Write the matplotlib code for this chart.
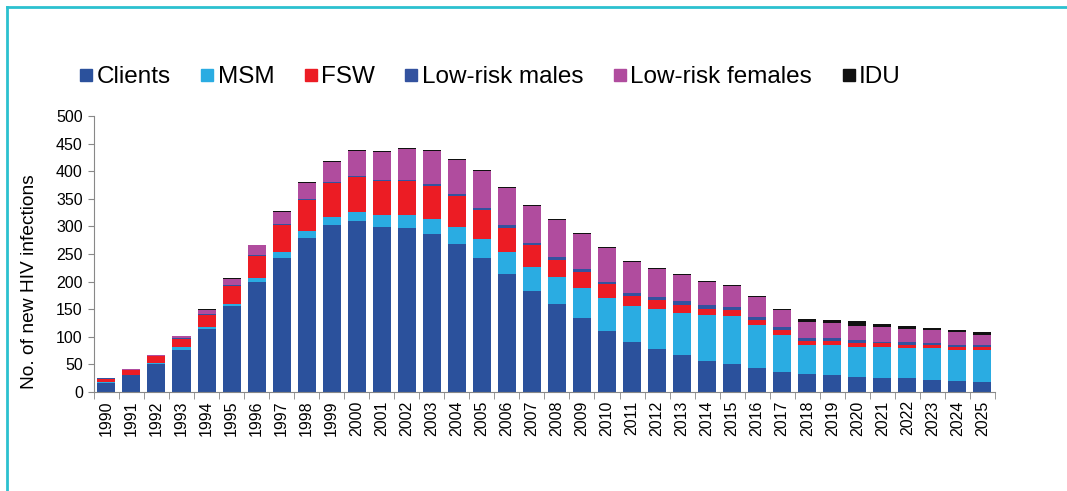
import numpy as np
import matplotlib.pyplot as plt
from matplotlib.lines import Line2D

plt.rcParams['font.family'] = ['Liberation Sans', 'DejaVu Sans']

years = [str(y) for y in range(1990, 2026)]

clients = [17, 30, 50, 77, 114, 155, 199, 243, 279, 303, 310, 299, 297, 287, 268, 243, 213, 183,
           159, 134, 111, 90, 78, 67, 56, 51, 44, 37, 33, 30, 28, 26, 25, 22, 20, 19]
msm = [1, 1, 3, 4, 3, 5, 8, 10, 12, 14, 17, 21, 23, 27, 31, 35, 40, 44,
       49, 54, 59, 65, 72, 76, 84, 86, 77, 66, 52, 55, 54, 55, 55, 58, 57, 57]
fsw = [6, 9, 12, 15, 23, 32, 40, 49, 56, 62, 62, 62, 62, 60, 56, 51, 45, 39,
       32, 30, 26, 19, 17, 15, 11, 11, 10, 9, 8, 7, 7, 7, 6, 5, 5, 5]
low_males = [0.5, 0.5, 0.5, 1, 1.5, 1.5, 1.5, 2, 2, 2, 2, 3, 3, 3, 4, 4, 4, 4,
             5, 5, 4, 5, 6, 6, 6, 6, 5, 5, 4, 5, 5, 3, 4, 4, 4, 4]
low_females = [0.5, 1, 1.5, 4, 7, 11, 17, 23, 30, 36, 45, 50, 55, 59, 62, 67, 67, 67,
               67, 64, 60, 56, 50, 48, 43, 38, 36, 31, 30, 28, 26, 26, 25, 23, 22, 19]
idu = [0.5, 0.5, 0.8, 1, 1, 1.5, 1.5, 1.5, 2, 2, 2, 1.5, 2, 2, 2, 2, 2, 2,
       2, 1.5, 2, 2, 2, 2, 2, 2, 1.5, 3, 5, 6, 8, 6.5, 4.5, 4, 4, 5]

series = [
    ("Clients", clients, "#2b519c"),
    ("MSM", msm, "#2aace2"),
    ("FSW", fsw, "#ec1c24"),
    ("Low-risk males", low_males, "#33529f"),
    ("Low-risk females", low_females, "#b04c9e"),
    ("IDU", idu, "#111111"),
]

fig = plt.figure(figsize=(10.67, 4.91), dpi=100)
ax = fig.add_axes([0.088, 0.2016, 0.8445, 0.5621])

x = np.arange(len(years))
bottom = np.zeros(len(years))
for name, vals, color in series:
    vals = np.array(vals, dtype=float)
    ax.bar(x, vals, 0.72, bottom=bottom, color=color, label=name)
    bottom += vals

ax.set_xlim(-0.5, len(years) - 0.5)
ax.set_ylim(0, 500)
ax.set_yticks(np.arange(0, 501, 50))
ax.set_xticks(x)
ax.set_xticklabels(years, rotation=90, fontsize=11.5)
ax.set_xticks(np.arange(-0.5, len(years), 1), minor=True)
ax.tick_params(axis='x', which='major', length=0, pad=6)
ax.tick_params(axis='x', which='minor', length=5, color='#888888', direction='out')
ax.tick_params(axis='y', length=4, color='#888888', labelsize=11.5, pad=4)

for s in ['top', 'right']:
    ax.spines[s].set_visible(False)
for s in ['left', 'bottom']:
    ax.spines[s].set_color('#888888')

ax.set_ylabel("No. of new HIV infections", fontsize=13.8)
ax.yaxis.set_label_coords(-0.062, 0.40)

handles = [Line2D([], [], marker='s', linestyle='none', markersize=8.5,
                  markerfacecolor=c, markeredgecolor=c) for _, _, c in series]
fig.legend(handles, [n for n, _, _ in series], loc='center left',
           bbox_to_anchor=(0.075, 0.843), ncol=6, frameon=False, fontsize=17.5,
           handletextpad=0.18, columnspacing=1.25, handlelength=0.5,
           borderpad=0, borderaxespad=0)

# teal frame lines at top and left
fig.add_artist(Line2D([0.0061, 1.0], [0.985, 0.985], color='#2cc1cf', lw=2,
                      transform=fig.transFigure))
fig.add_artist(Line2D([0.0061, 0.0061], [0.0, 0.985], color='#2cc1cf', lw=2,
                      transform=fig.transFigure))

fig.savefig("out.png", dpi=100)
